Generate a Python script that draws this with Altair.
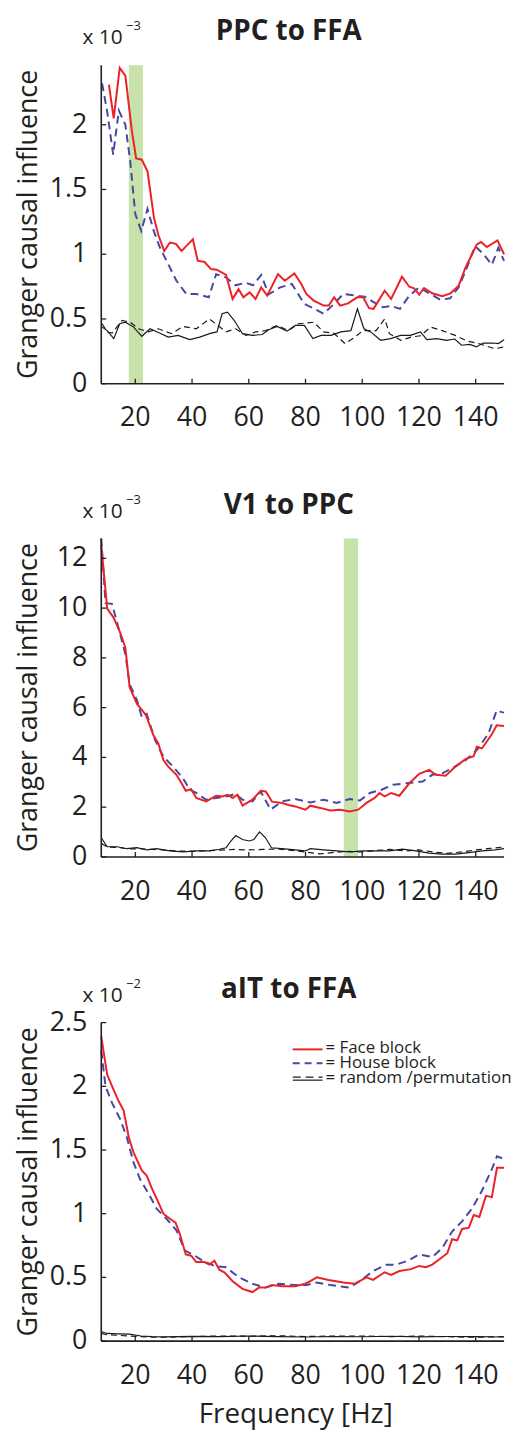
import altair as alt
import pandas as pd

# ---------------- data ----------------
x_ticks = [20, 40, 60, 80, 100, 120, 140]

# Panel 1: PPC to FFA  (x 10^-3)
ppc_yticks = [0, 0.5, 1, 1.5, 2]
ppc_face_hz = [10.7, 12.4, 14.5, 16.5, 18.8, 20.3, 22.3, 24.3, 26.6, 28.1, 30.2, 32.2, 34.3, 36.3, 38.3,
               40.3, 42.0, 44.4, 46.7, 48.7, 52.0, 54.3, 56.4, 58.1, 60.3, 62.4, 64.4, 66.5, 70.3, 72.7,
               76.1, 78.5, 80.3, 82.9, 86.4, 88.2, 90.1, 92.2, 95.0, 98.2, 100.3, 102.4, 104.0, 107.9, 110.2,
               114.0, 116.6, 118.3, 120.1, 121.8, 124.7, 128.2, 131.1, 134.0, 136.4, 138.7, 140.4, 141.9, 143.9, 147.7, 150.0]
ppc_face = [2.31, 2.05, 2.44, 2.38, 1.95, 1.74, 1.73, 1.64, 1.28, 1.15, 1.025, 1.09, 1.08, 1.025, 1.07,
            1.115, 0.95, 0.94, 0.885, 0.88, 0.84, 0.654, 0.73, 0.667, 0.705, 0.654, 0.744, 0.68, 0.846, 0.795,
            0.851, 0.77, 0.693, 0.642, 0.603, 0.603, 0.667, 0.603, 0.62, 0.667, 0.667, 0.583, 0.578, 0.718, 0.654,
            0.826, 0.749, 0.736, 0.688, 0.739, 0.698, 0.675, 0.698, 0.757, 0.897, 1.0, 1.076, 1.094, 1.056, 1.107, 1.0]
ppc_house_hz = [8.3, 10.1, 12.2, 14.2, 16.5, 18.2, 20.0, 22.1, 24.3, 26.5, 28.7, 31.0, 34.5, 38.0, 41.5,
                45.9, 48.5, 52.0, 55.4, 58.9, 61.5, 64.4, 67.0, 71.1, 75.2, 79.6, 83.0, 86.4, 89.8, 93.3,
                98.0, 100.9, 104.0, 107.3, 110.3, 113.3, 116.6, 120.1, 123.5, 127.6, 131.0, 134.0, 136.9, 139.8, 142.8,
                145.7, 148.0, 150.0]
ppc_house = [2.32, 2.10, 1.77, 2.11, 2.0, 1.72, 1.31, 1.18, 1.35, 1.18, 1.05, 0.95, 0.795, 0.693, 0.693,
             0.667, 0.846, 0.82, 0.76, 0.78, 0.76, 0.84, 0.69, 0.744, 0.77, 0.616, 0.58, 0.54, 0.61, 0.693,
             0.68, 0.672, 0.63, 0.59, 0.60, 0.578, 0.68, 0.744, 0.70, 0.647, 0.66, 0.744, 0.897, 1.063, 1.0,
             0.918, 1.05, 0.948]
ppc_perm_hz = [8.3, 10.1, 12.4, 14.5, 16.5, 19.4, 22.3, 25.2, 28.7, 31.6, 35.1, 39.2, 42.7, 46.7, 48.8,
               50.6, 52.5, 54.9, 57.8, 61.3, 64.7, 67.0, 70.0, 73.5, 76.4, 79.6, 82.6, 85.5, 89.0, 92.5,
               96.0, 98.3, 100.6, 103.0, 106.5, 110.0, 113.5, 117.0, 120.5, 122.8, 126.3, 129.7, 132.6, 135.0, 137.9,
               140.3, 142.6, 146.1, 148.0, 150.0]
ppc_perm = [0.437, 0.41, 0.348, 0.463, 0.475, 0.437, 0.366, 0.424, 0.39, 0.36, 0.373, 0.34, 0.36, 0.39, 0.40,
            0.54, 0.552, 0.488, 0.386, 0.373, 0.38, 0.417, 0.442, 0.406, 0.45, 0.45, 0.348, 0.373, 0.373, 0.40,
            0.41, 0.578, 0.424, 0.40, 0.335, 0.348, 0.373, 0.373, 0.40, 0.34, 0.348, 0.335, 0.345, 0.297, 0.304,
            0.284, 0.314, 0.314, 0.31, 0.34]
ppc_rand_hz = [8.3, 10.1, 11.8, 15.3, 18.2, 21.1, 24.6, 28.1, 32.8, 36.8, 41.5, 46.1, 48.5, 52.0, 55.4,
               59.0, 62.4, 65.9, 70.0, 74.0, 77.5, 82.9, 86.4, 90.0, 93.9, 96.7, 100.3, 104.9, 107.9, 109.6,
               113.6, 117.2, 120.6, 124.1, 128.2, 132.8, 136.9, 141.0, 146.8, 150.0]
ppc_rand = [0.463, 0.40, 0.39, 0.488, 0.475, 0.424, 0.40, 0.424, 0.386, 0.442, 0.424, 0.50, 0.46, 0.40, 0.424,
            0.373, 0.40, 0.41, 0.45, 0.41, 0.463, 0.475, 0.40, 0.39, 0.31, 0.348, 0.41, 0.41, 0.50, 0.386,
            0.335, 0.36, 0.37, 0.437, 0.41, 0.373, 0.33, 0.31, 0.27, 0.284]
ppc_band = [17.7, 22.7]

# Panel 2: V1 to PPC  (x 10^-3)
v1_yticks = [0, 2, 4, 6, 8, 10, 12]
v1_face_hz = [8.0, 10.1, 12.4, 14.7, 16.5, 18.0, 20.6, 23.8, 26.4, 28.1, 29.9, 31.6, 34.5, 36.3, 37.8,
              39.7, 41.5, 45.0, 48.5, 50.8, 52.5, 54.3, 56.0, 57.8, 61.3, 64.2, 66.0, 68.2, 71.7, 74.0,
              76.4, 80.0, 81.7, 85.2, 88.7, 92.2, 95.6, 98.6, 101.5, 104.4, 106.1, 107.9, 110.2, 113.1, 116.6,
              120.1, 123.6, 125.9, 129.4, 132.9, 136.4, 139.3, 140.4, 142.2, 145.7, 147.4, 150.0]
v1_face = [12.53, 9.98, 9.61, 9.01, 8.41, 6.82, 6.15, 5.69, 4.89, 4.56, 3.89, 3.63, 3.30, 2.96, 2.66,
           2.72, 2.37, 2.23, 2.46, 2.43, 2.50, 2.37, 2.50, 2.06, 2.30, 2.66, 2.63, 2.22, 2.17, 2.09,
           2.03, 1.90, 2.06, 1.97, 1.87, 1.90, 1.83, 1.90, 2.17, 2.37, 2.57, 2.43, 2.57, 2.46, 2.96,
           3.34, 3.50, 3.30, 3.26, 3.63, 3.93, 4.05, 4.43, 4.36, 4.93, 5.29, 5.26]
v1_house_hz = [8.0, 9.5, 11.8, 14.7, 16.5, 18.0, 20.6, 22.3, 24.0, 27.0, 29.9, 33.3, 36.8, 39.2, 41.5,
               45.0, 48.5, 52.0, 55.4, 57.8, 61.3, 64.2, 67.7, 71.7, 76.4, 81.7, 86.4, 91.0, 95.6, 99.2,
               102.7, 106.8, 110.8, 115.5, 121.3, 124.7, 128.2, 131.7, 136.4, 140.4, 144.5, 147.4, 149.2, 150.0]
v1_house = [12.8, 10.2, 10.17, 8.94, 8.15, 6.95, 6.29, 5.62, 5.75, 4.69, 4.03, 3.63, 3.16, 2.70, 2.57,
            2.30, 2.37, 2.43, 2.53, 2.30, 2.23, 2.63, 1.90, 2.23, 2.33, 2.19, 2.30, 2.17, 2.33, 2.27,
            2.57, 2.70, 2.90, 2.96, 3.03, 3.30, 3.36, 3.56, 3.89, 4.29, 4.96, 5.89, 5.82, 5.80]
v1_perm_hz = [8.0, 10.1, 13.6, 17.0, 20.6, 24.0, 27.5, 32.2, 36.8, 41.5, 46.1, 49.6, 52.0, 53.7, 55.4,
              57.8, 60.1, 61.8, 63.8, 65.9, 68.0, 71.7, 76.4, 79.9, 81.7, 86.4, 91.0, 95.6, 100.3, 104.9,
              109.6, 114.2, 118.9, 123.6, 128.2, 132.9, 137.5, 142.2, 146.8, 150.0]
v1_perm = [0.77, 0.41, 0.41, 0.33, 0.37, 0.28, 0.33, 0.24, 0.20, 0.24, 0.24, 0.31, 0.37, 0.64, 0.86,
           0.70, 0.64, 0.70, 1.01, 0.77, 0.37, 0.33, 0.28, 0.24, 0.33, 0.28, 0.24, 0.20, 0.24, 0.24,
           0.24, 0.31, 0.24, 0.15, 0.11, 0.11, 0.17, 0.24, 0.28, 0.33]
v1_rand_hz = [8.0, 10.1, 14.0, 18.0, 22.0, 26.0, 30.0, 35.0, 40.0, 45.0, 50.0, 55.0, 60.0, 65.0, 70.0,
              75.0, 80.0, 85.0, 90.0, 95.0, 100.0, 105.0, 110.0, 115.0, 120.0, 125.0, 130.0, 135.0, 140.0, 145.0, 150.0]
v1_rand = [0.55, 0.40, 0.38, 0.32, 0.33, 0.30, 0.28, 0.24, 0.22, 0.25, 0.27, 0.30, 0.28, 0.30, 0.32,
           0.26, 0.20, 0.12, 0.18, 0.22, 0.20, 0.26, 0.30, 0.24, 0.28, 0.20, 0.14, 0.20, 0.28, 0.34, 0.40]
v1_band = [93.5, 98.5]

# Panel 3: aIT to FFA  (x 10^-2)
ait_yticks = [0, 0.5, 1, 1.5, 2, 2.5]
ait_face_hz = [8.0, 10.1, 12.4, 14.2, 15.9, 17.7, 19.4, 22.3, 24.0, 25.8, 27.5, 29.9, 32.2, 34.2, 35.7,
               37.8, 39.7, 41.5, 44.4, 46.1, 47.9, 49.6, 51.4, 54.3, 57.8, 61.3, 63.6, 65.9, 68.2, 71.7,
               76.4, 79.9, 81.7, 84.0, 88.1, 93.4, 97.4, 101.5, 103.8, 107.9, 110.2, 113.1, 117.2, 120.1, 122.4,
               124.7, 127.1, 130.0, 131.7, 133.5, 135.2, 137.6, 139.3, 141.3, 143.6, 145.7, 147.5, 150.0]
ait_face = [2.39, 2.09, 1.97, 1.88, 1.81, 1.60, 1.48, 1.34, 1.30, 1.20, 1.12, 1.00, 0.96, 0.93, 0.84,
            0.68, 0.67, 0.62, 0.62, 0.60, 0.63, 0.56, 0.54, 0.47, 0.41, 0.385, 0.42, 0.42, 0.44, 0.43,
            0.43, 0.45, 0.47, 0.50, 0.48, 0.46, 0.45, 0.50, 0.48, 0.54, 0.52, 0.55, 0.565, 0.59, 0.58,
            0.60, 0.64, 0.69, 0.80, 0.79, 0.88, 0.89, 0.99, 0.975, 1.14, 1.13, 1.36, 1.36]
ait_house_hz = [8.0, 9.5, 11.8, 14.7, 17.0, 19.4, 21.7, 24.6, 27.5, 31.0, 34.5, 37.5, 40.3, 43.8, 47.9,
                51.9, 56.6, 61.3, 65.9, 70.5, 76.4, 80.5, 84.0, 88.7, 95.6, 99.7, 103.8, 108.5, 111.9, 116.0,
                120.1, 124.7, 128.2, 131.7, 135.2, 138.7, 142.2, 145.7, 147.5, 150.0]
ait_house = [2.28, 2.00, 1.87, 1.74, 1.60, 1.40, 1.27, 1.16, 1.04, 0.96, 0.87, 0.71, 0.68, 0.63, 0.59,
             0.58, 0.50, 0.45, 0.42, 0.45, 0.44, 0.44, 0.46, 0.44, 0.42, 0.48, 0.55, 0.60, 0.60, 0.63,
             0.68, 0.66, 0.73, 0.86, 0.94, 1.04, 1.18, 1.35, 1.45, 1.43]
ait_perm_hz = [8, 10, 14, 18, 22, 26, 30, 40, 50, 60, 70, 80, 90, 100, 110, 120, 130, 140, 150]
ait_perm = [0.075, 0.06, 0.057, 0.055, 0.04, 0.035, 0.033, 0.037, 0.035, 0.04, 0.035, 0.032, 0.036, 0.034,
            0.038, 0.033, 0.036, 0.035, 0.032]
ait_rand_hz = [8, 10, 14, 18, 22, 26, 30, 40, 50, 60, 70, 80, 90, 100, 110, 120, 130, 140, 150]
ait_rand = [0.06, 0.05, 0.045, 0.04, 0.035, 0.03, 0.03, 0.035, 0.04, 0.038, 0.042, 0.036, 0.04, 0.04,
            0.035, 0.04, 0.034, 0.03, 0.035]

legend_labels = ["= Face block", "= House block", "= random /permutation"]
y_title = "Granger causal influence"
x_title = "Frequency [Hz]"

# ---------------- styling ----------------
W, H = 406, 321
FONT = "Open Sans"
TXT = "#231f20"
RED = "#ec2227"
BLUE = "#4848a4"
GREEN = "#c8e2ab"
BLACK = "#1a1a1a"
ONE = pd.DataFrame({"k": [0]})


def line(hz, val, xs, ys, color, width, dash=None):
    df = pd.DataFrame({"hz": hz, "val": val})
    kw = dict(color=color, strokeWidth=width)
    if dash:
        kw["strokeDash"] = dash
    return alt.Chart(df).mark_line(**kw).encode(
        x=alt.X("hz:Q", scale=xs, axis=None),
        y=alt.Y("val:Q", scale=ys, axis=None),
    )


def label(text, x, y, size, align="left", weight="normal", angle=None):
    kw = dict(align=align, baseline="alphabetic", font=FONT, fontSize=size, color=TXT, fontWeight=weight)
    if angle is not None:
        kw["angle"] = angle
    return alt.Chart(ONE).mark_text(**kw).encode(x=alt.value(x), y=alt.value(y), text=alt.value(text))


def panel(title, exponent, ydom, yticks, face, house, perm, rand, band=None, xtitle=False, legend=False):
    xs = alt.Scale(domain=[8, 150], nice=False, zero=False)
    ys = alt.Scale(domain=ydom, nice=False, zero=False)
    layers = []
    if band:
        layers.append(
            alt.Chart(pd.DataFrame({"lo": [band[0]], "hi": [band[1]]})).mark_rect(color=GREEN).encode(
                x=alt.X("lo:Q", scale=xs, axis=None), x2="hi:Q", y=alt.value(0), y2=alt.value(H)
            )
        )
    layers.append(line(rand[0], rand[1], xs, ys, BLACK, 1.2, [6, 4]))
    layers.append(line(perm[0], perm[1], xs, ys, BLACK, 1.2))
    layers.append(line(house[0], house[1], xs, ys, BLUE, 2.0, [8, 5]))
    layers.append(line(face[0], face[1], xs, ys, RED, 2.0))

    # axis lines (left and bottom only)
    layers.append(alt.Chart(ONE).mark_rule(color=TXT, strokeWidth=1.6).encode(
        x=alt.value(0), x2=alt.value(W), y=alt.value(H)))
    layers.append(alt.Chart(ONE).mark_rule(color=TXT, strokeWidth=1.6).encode(
        x=alt.value(0), y=alt.value(0), y2=alt.value(H)))
    # inward ticks
    xt = pd.DataFrame({"t": x_ticks, "lab": [f"{v:g}" for v in x_ticks]})
    yt = pd.DataFrame({"t": yticks, "lab": [f"{v:g}" for v in yticks]})
    layers.append(alt.Chart(xt).mark_rule(color=TXT, strokeWidth=1.3).encode(
        x=alt.X("t:Q", scale=xs, axis=None), y=alt.value(H), y2=alt.value(H - 5)))
    layers.append(alt.Chart(yt).mark_rule(color=TXT, strokeWidth=1.3).encode(
        y=alt.Y("t:Q", scale=ys, axis=None), x=alt.value(0), x2=alt.value(5)))
    # tick labels
    layers.append(alt.Chart(xt).mark_text(align="center", baseline="alphabetic", font=FONT, fontSize=27,
                                          color=TXT).encode(
        x=alt.X("t:Q", scale=xs, axis=None), y=alt.value(H + 43), text="lab:N"))
    layers.append(alt.Chart(yt).mark_text(align="right", baseline="middle", font=FONT, fontSize=27,
                                          color=TXT).encode(
        y=alt.Y("t:Q", scale=ys, axis=None), x=alt.value(-14), text="lab:N"))
    # axis titles
    layers.append(label(y_title, -65, H / 2, 27, align="center", angle=270))
    if xtitle:
        layers.append(label(x_title, 196, H + 83, 28, align="center"))
    # panel title and scale factor
    layers.append(label(title, W / 2 - 14, -25, 28, align="center", weight="bold"))
    layers.append(label("x 10", -19, -21, 21))
    layers.append(label(exponent, 25, -35, 13))

    if legend:
        layers.append(alt.Chart(ONE).mark_rule(color=RED, strokeWidth=2.0).encode(
            x=alt.value(193), x2=alt.value(223), y=alt.value(27)))
        layers.append(alt.Chart(ONE).mark_rule(color=BLUE, strokeWidth=2.0, strokeDash=[7, 5]).encode(
            x=alt.value(193), x2=alt.value(223), y=alt.value(41)))
        layers.append(alt.Chart(ONE).mark_rule(color=BLACK, strokeWidth=1.2, strokeDash=[8, 5]).encode(
            x=alt.value(193), x2=alt.value(223), y=alt.value(55)))
        layers.append(alt.Chart(ONE).mark_rule(color=BLACK, strokeWidth=1.2).encode(
            x=alt.value(193), x2=alt.value(223), y=alt.value(58)))
        for i, lab in enumerate(legend_labels):
            layers.append(label(lab, 226, 31 + 15 * i, 17))
    return alt.layer(*layers).properties(width=W, height=H)


p1 = panel("PPC to FFA", "\u22123", [0, 2.46], ppc_yticks,
           (ppc_face_hz, ppc_face), (ppc_house_hz, ppc_house), (ppc_perm_hz, ppc_perm),
           (ppc_rand_hz, ppc_rand), band=ppc_band)
p2 = panel("V1 to PPC", "\u22123", [0, 12.8], v1_yticks,
           (v1_face_hz, v1_face), (v1_house_hz, v1_house), (v1_perm_hz, v1_perm),
           (v1_rand_hz, v1_rand), band=v1_band)
p3 = panel("aIT to FFA", "\u22122", [0, 2.5], ait_yticks,
           (ait_face_hz, ait_face), (ait_house_hz, ait_house), (ait_perm_hz, ait_perm),
           (ait_rand_hz, ait_rand), xtitle=True, legend=True)

top = alt.vconcat(p1, p2, spacing=61)
chart = alt.vconcat(top, p3, spacing=72).properties(
    padding={"left": 6, "top": 5, "right": 0, "bottom": 0}
).configure_view(stroke=None)

chart.save("out.html", embed_options={"renderer": "svg", "actions": False})
